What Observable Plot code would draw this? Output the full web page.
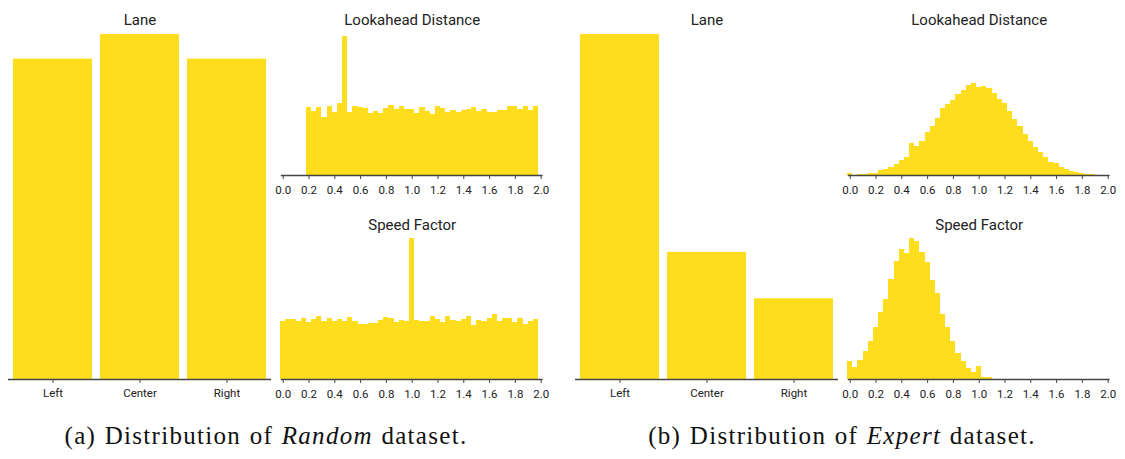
<!DOCTYPE html>
<html>
<head>
<meta charset="utf-8">
<script src="https://cdn.jsdelivr.net/npm/d3@7"></script>
<script src="https://cdn.jsdelivr.net/npm/@observablehq/plot@0.6"></script>
<style>
  html, body { margin: 0; padding: 0; background: #fff; }
  #fig { position: relative; width: 1125px; height: 459px; overflow: hidden; font-family: Roboto, sans-serif; }
  .panel { position: absolute; }
  .caption {
    position: absolute; top: 423px; white-space: nowrap;
    font-family: "Liberation Serif", "DejaVu Serif", serif; font-size: 25px; line-height: 1;
    letter-spacing: 1.3px; word-spacing: 1px;
    color: #111; transform: translateX(-50%);
  }
</style>
</head>
<body>
<div id="fig"></div>
<script>
// Lane choice shares (fraction of samples per lane)
const laneLabels = ["Left", "Center", "Right"];
const laneRandom = [0.325, 0.350, 0.325];
const laneExpert = [0.624, 0.230, 0.146];

// Histogram bins: width 0.04, centred on multiples of 0.04; values are % of samples per bin
const binWidth = 0.04;
const xTicks = [0.0, 0.2, 0.4, 0.6, 0.8, 1.0, 1.2, 1.4, 1.6, 1.8, 2.0];

// Random dataset
const lookaheadRandomStart = 0.20;
const lookaheadRandom = [
  2.25, 2.12, 2.25, 1.92, 2.28, 2.09, 2.38, 4.60, 2.09, 2.28,
  2.25, 2.22, 2.06, 2.12, 2.06, 2.22, 2.32, 2.19, 2.28, 2.19,
  2.19, 2.06, 2.25, 2.12, 2.02, 2.29, 2.22, 2.09, 2.16, 2.09,
  2.16, 2.19, 2.25, 2.12, 2.19, 2.09, 2.09, 2.16, 2.15, 2.28,
  2.28, 2.19, 2.28, 2.16, 2.28
];
const speedRandomStart = 0.0;
const speedRandom = [
  1.91, 1.98, 1.98, 1.92, 2.01, 1.88, 1.98, 2.08, 1.92, 2.01,
  1.92, 1.98, 1.92, 2.05, 1.91, 1.82, 1.82, 1.85, 1.85, 1.95,
  2.05, 2.01, 1.88, 1.95, 1.91, 4.65, 1.95, 1.91, 1.91, 2.08,
  1.98, 1.88, 2.08, 1.95, 1.91, 1.98, 2.08, 1.78, 1.95, 1.91,
  2.01, 2.15, 1.91, 2.01, 2.01, 1.88, 2.01, 1.82, 1.91, 1.98
];

// Expert dataset
const lookaheadExpertStart = 0.0;
const lookaheadExpert = [
  0.12, 0.00, 0.06, 0.08, 0.10, 0.12, 0.29, 0.35, 0.46, 0.64,
  0.87, 1.04, 1.85, 1.68, 1.97, 2.49, 2.83, 3.29, 3.87, 4.10,
  4.34, 4.68, 4.91, 5.20, 5.32, 5.09, 5.13, 5.03, 4.74, 4.38,
  4.16, 3.70, 3.24, 2.83, 2.37, 1.97, 1.62, 1.33, 1.04, 0.75,
  0.69, 0.46, 0.35, 0.23, 0.17, 0.12, 0.08, 0.08
];
const speedExpertStart = 0.0;
const speedExpert = [
  1.04, 0.69, 1.10, 1.62, 2.20, 3.01, 3.87, 4.62, 5.78, 6.82,
  7.51, 7.28, 8.15, 7.98, 7.34, 6.76, 5.72, 4.97, 3.76, 3.01,
  2.20, 1.50, 1.04, 0.64, 0.40, 0.75, 0.12, 0.12
];

const YELLOW = "#fddd1c";
const AXIS = "#444";
const INK = "#222";
const fig = document.getElementById("fig");

function place(svg, left, top) {
  svg.classList.add("panel");
  svg.style.left = left + "px";
  svg.style.top = top + "px";
  fig.appendChild(svg);
}

function panelTitle(title, dy) {
  return Plot.text([title], {frameAnchor: "top", lineAnchor: "middle", dy, fontSize: 15, fill: INK});
}

function laneChart(values, title, mLeft, mRight) {
  const data = laneLabels.map((lane, i) => ({lane, share: values[i]}));
  return Plot.plot({
    width: 285, height: 410,
    marginTop: 34, marginBottom: 31, marginLeft: mLeft, marginRight: mRight,
    style: {fontFamily: "Roboto, sans-serif", fontSize: "11.5px", color: INK, background: "transparent"},
    x: {domain: laneLabels, paddingInner: 0.09, paddingOuter: 0.045, label: null},
    y: {axis: null, domain: [0, d3.max(values)]},
    marks: [
      Plot.barY(data, {x: "lane", y: "share", fill: YELLOW}),
      Plot.ruleY([0], {stroke: AXIS, strokeWidth: 1.5}),
      Plot.axisX({tickSize: 4, tickPadding: 5, stroke: AXIS, label: null}),
      panelTitle(title, -14)
    ]
  });
}

function bins(start, values) {
  return values.map((v, i) => {
    const c = start + i * binWidth;
    return {x1: c - binWidth / 2, x2: c + binWidth / 2, pct: v};
  });
}

function histChart(start, values, yMax, title, mTop, mBottom, mLeft, mRight, titleDy) {
  return Plot.plot({
    width: 285, height: 205,
    marginTop: mTop, marginBottom: mBottom, marginLeft: mLeft, marginRight: mRight,
    style: {fontFamily: "Roboto, sans-serif", fontSize: "11.5px", color: INK, background: "transparent"},
    x: {domain: [-0.015, 2.015], label: null},
    y: {axis: null, domain: [0, yMax]},
    marks: [
      Plot.rectY(bins(start, values), {x1: "x1", x2: "x2", y: "pct", fill: YELLOW, inset: 0, shapeRendering: "crispEdges"}),
      Plot.ruleY([0], {stroke: AXIS, strokeWidth: 1.5}),
      Plot.axisX({ticks: xTicks, tickFormat: d3.format(".1f"), tickSize: 4, tickPadding: 6, stroke: AXIS, label: null}),
      panelTitle(title, titleDy)
    ]
  });
}

// (a) Random dataset
const randomMax = d3.max([...lookaheadRandom, ...speedRandom]);
place(laneChart(laneRandom, "Lane", 8, 14), 0, 0);
place(histChart(lookaheadRandomStart, lookaheadRandom, randomMax, "Lookahead Distance", 34, 30, 10.8, 12.4, -14), 270, 0);
place(histChart(speedRandomStart, speedRandom, randomMax, "Speed Factor", 33, 31, 10.8, 12.4, -13), 270, 205);

// (b) Expert dataset
const expertMax = d3.max([...lookaheadExpert, ...speedExpert]);
place(laneChart(laneExpert, "Lane", 15, 7), 560, 0);
place(histChart(lookaheadExpertStart, lookaheadExpert, expertMax, "Lookahead Distance", 34, 30, 12.8, 10.4, -14), 835, 0);
place(histChart(speedExpertStart, speedExpert, expertMax, "Speed Factor", 33, 31, 12.8, 10.4, -13), 835, 205);

// Sub-figure captions
function caption(x, label, name) {
  const d = document.createElement("div");
  d.className = "caption";
  d.style.left = x + "px";
  d.append(`(${label}) Distribution of `);
  const em = document.createElement("i");
  em.textContent = name;
  d.append(em, " dataset.");
  fig.appendChild(d);
}
caption(266, "a", "Random");
caption(842, "b", "Expert");
</script>
</body>
</html>
